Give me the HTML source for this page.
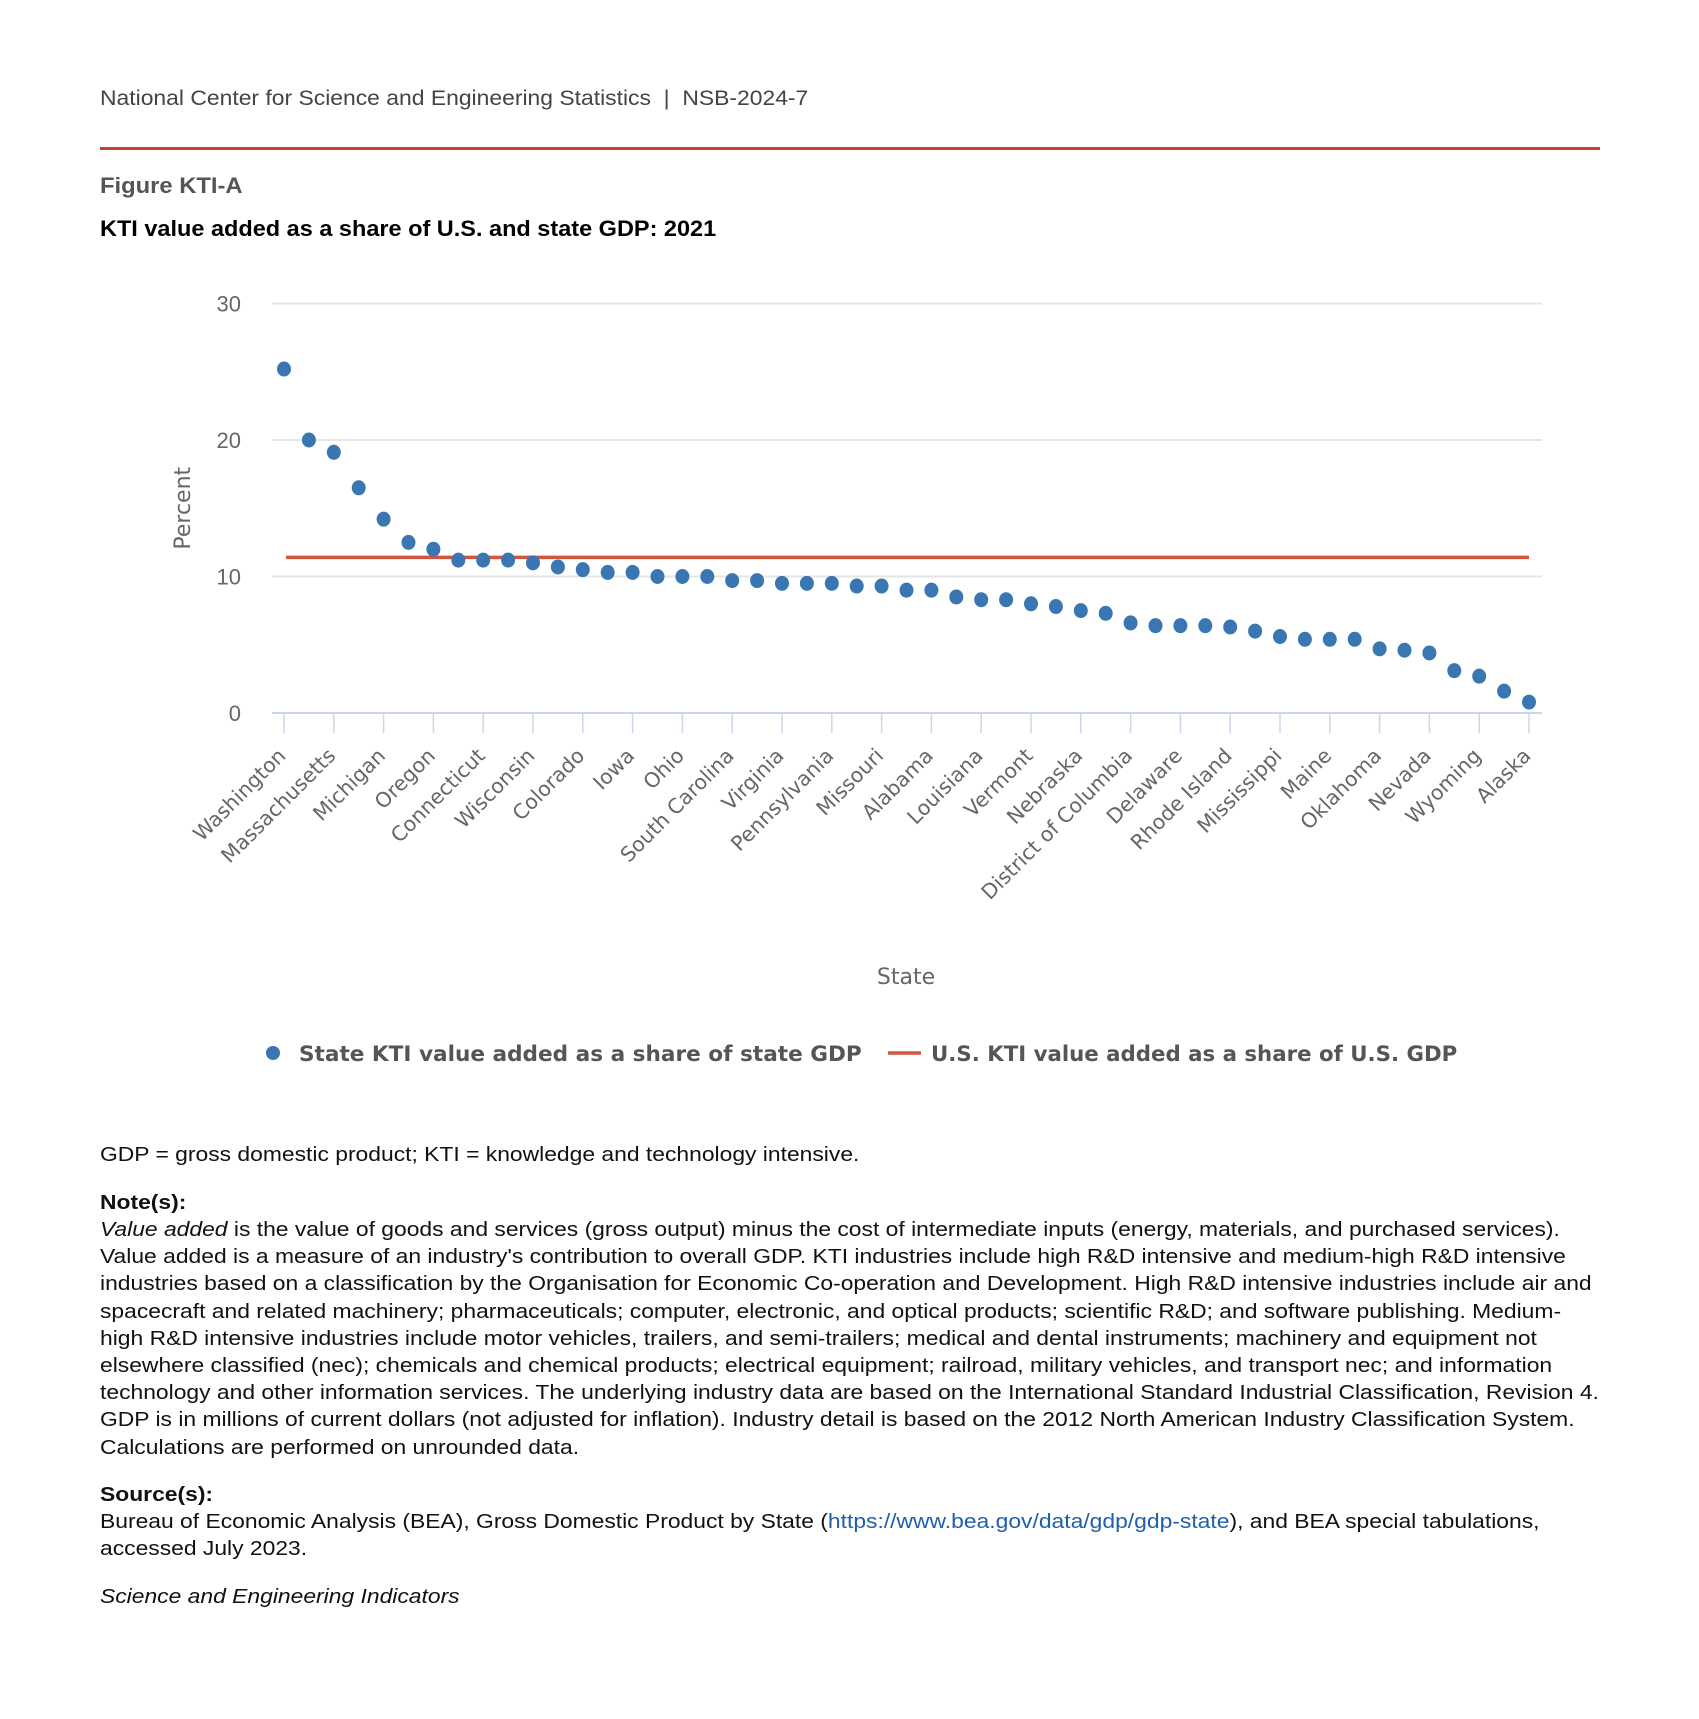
<!DOCTYPE html>
<html><head><meta charset="utf-8">
<style>
html,body{margin:0;padding:0;background:#fff;}
body{width:1699px;height:1719px;position:relative;overflow:hidden;font-family:"Liberation Sans",Arial,sans-serif;}
.t{position:absolute;white-space:nowrap;transform-origin:0 0;}
.note{position:absolute;left:100px;font-size:20.5px;line-height:27.2px;color:#111;white-space:nowrap;transform:scaleX(1.115);transform-origin:0 0;}
</style></head><body>
<div class="t" style="left:100px;top:87px;font-size:21px;color:#444;transform:scaleX(1.09);">National Center for Science and Engineering Statistics &nbsp;|&nbsp; NSB-2024-7</div>
<div style="position:absolute;left:100px;top:147px;width:1500px;height:3px;background:#c8412f;"></div>
<div class="t" style="left:100px;top:173px;font-size:22px;font-weight:bold;color:#555;transform:scaleX(1.08);">Figure KTI-A</div>
<div class="t" style="left:100px;top:216px;font-size:22.5px;font-weight:bold;color:#000;transform:scaleX(1.044);">KTI value added as a share of U.S. and state GDP: 2021</div>

<svg id="chart" width="1699" height="1100" style="position:absolute;left:0;top:0;"></svg>

<div class="note" style="top:1141px;">GDP = gross domestic product; KTI = knowledge and technology intensive.</div>
<div class="note" style="top:1189px;font-weight:bold;">Note(s):</div>
<div class="note" style="top:1216px;"><i>Value added</i> is the value of goods and services (gross output) minus the cost of intermediate inputs (energy, materials, and purchased services).<br>Value added is a measure of an industry's contribution to overall GDP. KTI industries include high R&amp;D intensive and medium-high R&amp;D intensive<br>industries based on a classification by the Organisation for Economic Co-operation and Development. High R&amp;D intensive industries include air and<br>spacecraft and related machinery; pharmaceuticals; computer, electronic, and optical products; scientific R&amp;D; and software publishing. Medium-<br>high R&amp;D intensive industries include motor vehicles, trailers, and semi-trailers; medical and dental instruments; machinery and equipment not<br>elsewhere classified (nec); chemicals and chemical products; electrical equipment; railroad, military vehicles, and transport nec; and information<br>technology and other information services. The underlying industry data are based on the International Standard Industrial Classification, Revision 4.<br>GDP is in millions of current dollars (not adjusted for inflation). Industry detail is based on the 2012 North American Industry Classification System.<br>Calculations are performed on unrounded data.</div>
<div class="note" style="top:1481px;font-weight:bold;">Source(s):</div>
<div class="note" style="top:1508px;">Bureau of Economic Analysis (BEA), Gross Domestic Product by State (<span style="color:#1f5fad;">https://www.bea.gov/data/gdp/gdp-state</span>), and BEA special tabulations,<br>accessed July 2023.</div>
<div class="note" style="top:1583px;font-style:italic;">Science and Engineering Indicators</div>

<script>
const states = ["Washington","","Massachusetts","","Michigan","","Oregon","","Connecticut","","Wisconsin","","Colorado","","Iowa","","Ohio","","South Carolina","","Virginia","","Pennsylvania","","Missouri","","Alabama","","Louisiana","","Vermont","","Nebraska","","District of Columbia","","Delaware","","Rhode Island","","Mississippi","","Maine","","Oklahoma","","Nevada","","Wyoming","","Alaska"];
const stateValues = [25.2,20.0,19.1,16.5,14.2,12.5,12.0,11.2,11.2,11.2,11.0,10.7,10.5,10.3,10.3,10.0,10.0,10.0,9.7,9.7,9.5,9.5,9.5,9.3,9.3,9.0,9.0,8.5,8.3,8.3,8.0,7.8,7.5,7.3,6.6,6.4,6.4,6.4,6.3,6.0,5.6,5.4,5.4,5.4,4.7,4.6,4.4,3.1,2.7,1.6,0.8];
const usValue = [11.4];
const yTicks = [0,10,20,30];

const NS="http://www.w3.org/2000/svg";
const svg=document.getElementById('chart');
const X0=284, X1=1529, Y0=713, Y30=303.5, GL=272, GR=1542;
const x=i=>X0+(X1-X0)*i/(states.length-1);
const y=v=>Y0-(Y0-Y30)*v/30;
function el(tag,attrs,parent){const e=document.createElementNS(NS,tag);for(const k in attrs)e.setAttribute(k,attrs[k]);(parent||svg).appendChild(e);return e;}

yTicks.forEach(t=>{
  if(t>0){const g=el('line',{x1:GL,x2:GR,y1:y(t),y2:y(t),stroke:'#e6e6e6','stroke-width':2});
  
  }
  const lb=el('text',{x:241,y:y(t)+8,'text-anchor':'end','font-size':22,fill:'#666','font-family':'"Liberation Sans",sans-serif'});
  lb.textContent=t;
  
  
});
const ax=el('line',{x1:GL,x2:GR,y1:Y0,y2:Y0,stroke:'#ccd6eb','stroke-width':2});


states.forEach((s,i)=>{
  if(i%2) return;
  const tk=el('line',{x1:x(i),x2:x(i),y1:Y0,y2:Y0+20,stroke:'#ccd6eb','stroke-width':1.5});
  
  
  const tx=x(i)+3, ty=Y0+44;
  const lb=el('text',{x:tx,y:ty,'text-anchor':'end','font-size':20.5,fill:'#666','font-family':'"DejaVu Sans",sans-serif',transform:`rotate(-45 ${tx} ${ty})`});
  lb.textContent=s;
  
  
});
const yt=el('text',{x:0,y:0,'text-anchor':'middle','font-size':22,fill:'#666','font-family':'"DejaVu Sans",sans-serif',transform:`translate(190 ${y(15)}) rotate(-90)`});
yt.textContent='Percent';


const xt=el('text',{x:906,y:984,'text-anchor':'middle','font-size':22,fill:'#666','font-family':'"DejaVu Sans",sans-serif'});
xt.textContent='State';



const us=el('line',{x1:x(0)+2,x2:x(states.length-1),y1:y(usValue[0]),y2:y(usValue[0]),stroke:'#d2553e','stroke-width':3.5});


stateValues.forEach((v,i)=>{
  const c=el('ellipse',{cx:x(i),cy:y(v),rx:7,ry:7.5,fill:'#3a77b2'});
  
  
});

// legend
const lc=el('circle',{cx:273,cy:1053,r:7,fill:'#3a77b2'});


const lt1=el('text',{x:299,y:1061,'font-size':21.6,'font-weight':'bold',fill:'#555','font-family':'"DejaVu Sans",sans-serif'});
lt1.textContent='State KTI value added as a share of state GDP';


const ll=el('line',{x1:888,x2:921,y1:1053,y2:1053,stroke:'#d2553e','stroke-width':3.5});


const lt2=el('text',{x:931,y:1061,'font-size':21.3,'font-weight':'bold',fill:'#555','font-family':'"DejaVu Sans",sans-serif'});
lt2.textContent='U.S. KTI value added as a share of U.S. GDP';


</script>
</body></html>
